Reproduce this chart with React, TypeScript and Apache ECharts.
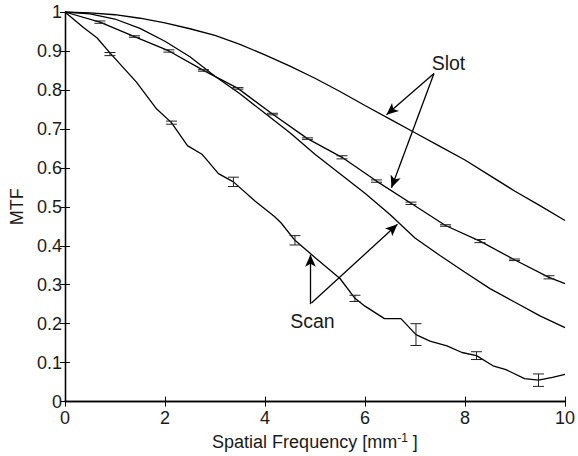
import React, { useEffect, useRef } from "react";
import * as echarts from "echarts";

// Slot measurement, upper curve (no error bars)
const slotTopX = [0, 0.5, 1, 1.5, 2, 2.5, 3, 3.5, 4, 4.5, 5, 5.5, 6, 6.5, 7, 7.5, 8, 8.5, 9, 9.5, 10];
const slotTopY = [1, 0.998, 0.993, 0.984, 0.972, 0.957, 0.94, 0.917, 0.89, 0.861, 0.83, 0.796, 0.76, 0.725, 0.69, 0.655, 0.62, 0.58, 0.54, 0.503, 0.465];

// Slot measurement, lower curve (with error bars)
const slotLowX = [0, 0.7, 1.39, 2.08, 2.77, 3.46, 4.15, 4.85, 5.54, 6.23, 6.92, 7.61, 8.3, 8.99, 9.68, 10];
const slotLowY = [1, 0.974, 0.937, 0.9, 0.85, 0.804, 0.738, 0.675, 0.627, 0.566, 0.509, 0.452, 0.412, 0.364, 0.319, 0.303];
const slotErrX = [0.7, 1.39, 2.08, 2.77, 3.46, 4.15, 4.85, 5.54, 6.23, 6.92, 7.61, 8.3, 8.99, 9.68];
const slotErrY = [0.974, 0.937, 0.9, 0.85, 0.804, 0.738, 0.675, 0.627, 0.566, 0.509, 0.452, 0.412, 0.364, 0.319];
const slotErr = [0.003, 0.002, 0.003, 0.002, 0.002, 0.002, 0.002, 0.004, 0.003, 0.003, 0.002, 0.004, 0.002, 0.004];

// Scan measurement, upper curve
const scanTopX = [0, 0.5, 1, 1.5, 2, 2.5, 3, 3.5, 4, 4.5, 5, 5.5, 6, 6.5, 7, 7.5, 8, 8.5, 9, 9.5, 10];
const scanTopY = [1, 0.995, 0.982, 0.958, 0.925, 0.885, 0.835, 0.79, 0.74, 0.69, 0.635, 0.585, 0.535, 0.48, 0.42, 0.375, 0.332, 0.29, 0.255, 0.22, 0.19];

// Scan measurement, lower curve (with error bars)
const scanLowX = [0, 0.37, 0.64, 0.9, 1.43, 1.82, 2.13, 2.45, 2.74, 3.07, 3.37, 3.8, 4.19, 4.32, 4.6, 5.0, 5.5, 5.8, 6.0, 6.39, 6.72, 7.02, 7.3, 7.64, 7.94, 8.23, 8.56, 8.82, 9.19, 9.47, 9.75, 10];
const scanLowY = [1, 0.96, 0.934, 0.895, 0.82, 0.753, 0.716, 0.657, 0.635, 0.585, 0.564, 0.515, 0.475, 0.459, 0.414, 0.37, 0.316, 0.265, 0.245, 0.213, 0.213, 0.172, 0.155, 0.143, 0.126, 0.118, 0.092, 0.082, 0.059, 0.055, 0.062, 0.07];
const scanErrX = [0.9, 2.13, 3.37, 4.6, 5.8, 7.02, 8.23, 9.47];
const scanErrY = [0.892, 0.716, 0.564, 0.414, 0.265, 0.172, 0.118, 0.055];
const scanErr = [0.004, 0.004, 0.012, 0.012, 0.008, 0.028, 0.01, 0.016];

// Annotations (data coordinates)
const slotLabel = { x: 7.67, y: 0.869, text: "Slot" };
const scanLabel = { x: 4.95, y: 0.208, text: "Scan" };
const slotArrows = [
  [[7.38, 0.842], [6.43, 0.736]],
  [[7.38, 0.842], [6.53, 0.549]],
];
const scanArrows = [
  [[4.91, 0.25], [4.91, 0.377]],
  [[4.93, 0.253], [6.65, 0.455]],
];

const FONT = "'Liberation Sans', Arial, Helvetica, sans-serif";
const TXT = "#1a1a1a";

const zip = (xs: number[], ys: number[]) => xs.map((x, i) => [x, ys[i]]);

function errorSeries(xs: number[], ys: number[], es: number[]) {
  return {
    type: "custom",
    data: xs.map((x, i) => [x, ys[i] - es[i], ys[i] + es[i]]),
    z: 5,
    renderItem: (_p: any, api: any) => {
      const x = api.value(0);
      const lo = api.coord([x, api.value(1)]);
      const hi = api.coord([x, api.value(2)]);
      const w = 5.5;
      const style = { stroke: "#222", lineWidth: 1 };
      return {
        type: "group",
        children: [
          { type: "line", shape: { x1: lo[0], y1: lo[1], x2: hi[0], y2: hi[1] }, style },
          { type: "line", shape: { x1: lo[0] - w, y1: lo[1], x2: lo[0] + w, y2: lo[1] }, style },
          { type: "line", shape: { x1: hi[0] - w, y1: hi[1], x2: hi[0] + w, y2: hi[1] }, style },
        ],
      };
    },
  };
}

const lineBase = {
  type: "line",
  showSymbol: false,
  symbol: "none",
  lineStyle: { color: "#000", width: 1.3 },
  silent: true,
};

const arrowMark = (arrs: number[][][]) => ({
  silent: true,
  symbol: ["none", "arrow"],
  symbolSize: [8, 12],
  label: { show: false },
  lineStyle: { color: "#000", width: 1.3, type: "solid" },
  data: arrs.map((a) => [{ coord: a[0] }, { coord: a[1] }]),
});

const textMark = (l: { x: number; y: number; text: string }) => ({
  silent: true,
  symbol: "circle",
  symbolSize: 0,
  label: {
    show: true,
    position: "inside",
    formatter: l.text,
    fontSize: 19.5,
    fontFamily: FONT,
    color: TXT,
  },
  data: [{ coord: [l.x, l.y] }],
});

export default function App() {
  const ref = useRef<HTMLDivElement>(null);
  useEffect(() => {
    if (!ref.current) return;
    const chart = echarts.init(ref.current, undefined, { renderer: "svg" });
    const axisCommon = {
      type: "value",
      axisLine: { show: true, lineStyle: { color: "#000", width: 1.3 } },
      axisTick: { show: true, inside: true, length: 5, lineStyle: { color: "#000", width: 1 } },
      splitLine: { show: false },
    };
    chart.setOption({
      animation: false,
      backgroundColor: "#fff",
      grid: { left: 61, right: 10, top: 12, bottom: 48 },
      xAxis: [
        {
          ...axisCommon,
          position: "bottom",
          min: 0,
          max: 10,
          interval: 2,
          axisLabel: { fontSize: 18, fontFamily: FONT, color: TXT, margin: 7 },
          name: "{a|Spatial Frequency [mm}{s|-1}{a| ]}",
          nameLocation: "middle",
          nameGap: 29,
          nameTextStyle: {
            rich: {
              a: { fontSize: 18, fontFamily: FONT, color: TXT, lineHeight: 21 },
              s: { fontSize: 12, fontFamily: FONT, color: TXT, verticalAlign: "top", lineHeight: 21 },
            },
          },
        },
        {
          ...axisCommon,
          position: "top",
          min: 0,
          max: 10,
          interval: 2,
          axisLabel: { show: false },
        },
      ],
      yAxis: [
        {
          ...axisCommon,
          position: "left",
          min: 0,
          max: 1,
          interval: 0.1,
          axisLabel: { fontSize: 18, fontFamily: FONT, color: TXT, margin: 3 },
          name: "MTF",
          nameLocation: "middle",
          nameGap: 31,
          nameTextStyle: { fontSize: 18, fontFamily: FONT, color: TXT },
        },
        {
          ...axisCommon,
          position: "right",
          min: 0,
          max: 1,
          interval: 0.1,
          axisLabel: { show: false },
        },
      ],
      series: [
        { ...lineBase, name: "Slot A", data: zip(slotTopX, slotTopY), markLine: arrowMark(slotArrows), markPoint: textMark(slotLabel) },
        { ...lineBase, name: "Slot B", data: zip(slotLowX, slotLowY) },
        { ...lineBase, name: "Scan A", data: zip(scanTopX, scanTopY), markLine: arrowMark(scanArrows), markPoint: textMark(scanLabel) },
        { ...lineBase, name: "Scan B", data: zip(scanLowX, scanLowY) },
        errorSeries(slotErrX, slotErrY, slotErr),
        errorSeries(scanErrX, scanErrY, scanErr),
      ],
    });
    return () => chart.dispose();
  }, []);
  return (
    <div
      ref={ref}
      style={{ position: "fixed", left: 0, top: 0, width: 578, height: 456, background: "#fff" }}
    />
  );
}
